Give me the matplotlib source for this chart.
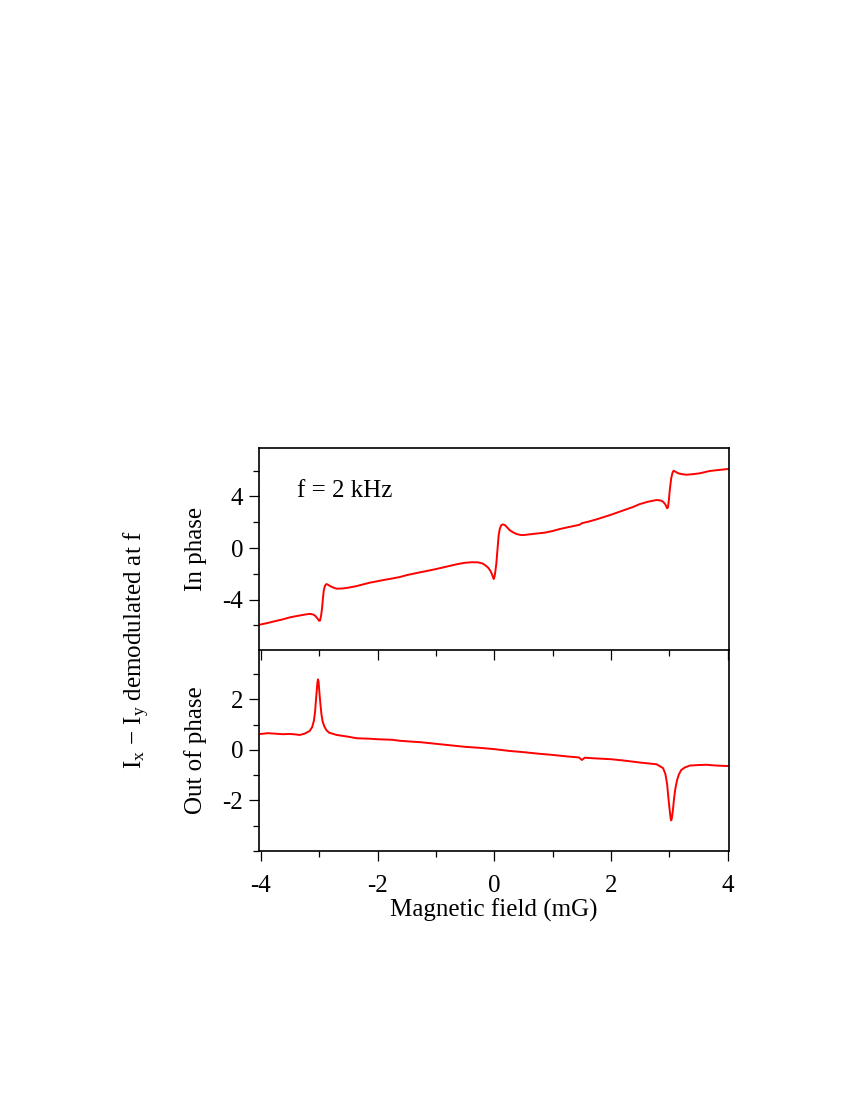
import matplotlib
matplotlib.use("Agg")
import matplotlib.pyplot as plt
from matplotlib.ticker import MultipleLocator

# ---- data ----
x_in = [-4.00, -3.875, -3.75, -3.625, -3.50, -3.375, -3.25, -3.16, -3.10, -3.06,
        -3.03, -3.00, -2.985, -2.965, -2.95, -2.935, -2.92, -2.90, -2.875, -2.85,
        -2.81, -2.76, -2.70, -2.59, -2.50, -2.36,
        -2.25, -2.13, -2.00, -1.875, -1.75, -1.62, -1.50, -1.375, -1.25, -1.125,
        -1.00, -0.875, -0.75, -0.625, -0.50, -0.38, -0.28, -0.20, -0.14, -0.10,
        -0.06, -0.03, -0.01, 0.005, 0.02, 0.035, 0.055, 0.075, 0.095, 0.12,
        0.15, 0.18, 0.22, 0.26, 0.32, 0.38, 0.44, 0.49, 0.66, 0.86, 1.00,
        1.12, 1.25, 1.375, 1.46, 1.50, 1.625, 1.75, 1.875, 2.00, 2.125,
        2.25, 2.375, 2.49, 2.625, 2.78, 2.85, 2.89, 2.93, 2.96, 2.975,
        2.99, 3.00, 3.015, 3.03, 3.05, 3.07, 3.10, 3.15, 3.22, 3.29,
        3.40, 3.52, 3.69, 3.85, 4.00]
y_in = [-5.92, -5.80, -5.66, -5.53, -5.37, -5.26, -5.16, -5.10, -5.15, -5.28,
        -5.45, -5.64, -5.62, -5.20, -4.65, -3.90, -3.26, -2.92, -2.79, -2.84,
        -2.95, -3.06, -3.15, -3.13, -3.07, -2.95,
        -2.82, -2.68, -2.57, -2.46, -2.36, -2.25, -2.10, -1.98, -1.86, -1.75,
        -1.63, -1.50, -1.37, -1.24, -1.14, -1.10, -1.11, -1.20, -1.38, -1.55,
        -1.82, -2.15, -2.40, -2.20, -1.75, -1.19, -0.10, 1.00, 1.50, 1.78,
        1.83, 1.78, 1.60, 1.40, 1.22, 1.09, 1.02, 1.00, 1.09, 1.19, 1.32,
        1.47, 1.60, 1.72, 1.80, 1.92, 2.06, 2.22, 2.40, 2.58, 2.78,
        2.98, 3.18, 3.40, 3.58, 3.72, 3.68, 3.59, 3.38, 3.08, 3.15,
        3.70, 4.24, 4.85, 5.40, 5.80, 5.99, 5.92, 5.79, 5.72, 5.68,
        5.72, 5.79, 5.97, 6.05, 6.12]

x_out = [-4.00, -3.875, -3.75, -3.625, -3.50, -3.40, -3.33, -3.25, -3.16, -3.12,
         -3.09, -3.07, -3.05, -3.03, -3.02, -3.01, -3.00, -2.98, -2.96, -2.94,
         -2.91, -2.875, -2.83, -2.70, -2.50, -2.36, -2.125,
         -2.00, -1.75, -1.62, -1.50, -1.25, -1.00, -0.75, -0.50, -0.25, 0.00,
         0.25, 0.50, 0.75, 1.00, 1.25, 1.45, 1.50, 1.55, 1.75, 2.00,
         2.25, 2.49, 2.78, 2.89, 2.93, 2.96, 2.98, 3.00, 3.02, 3.03,
         3.04, 3.06, 3.08, 3.10, 3.13, 3.16, 3.20, 3.26,
         3.35, 3.50, 3.63, 3.80, 4.00]
y_out = [0.63, 0.66, 0.64, 0.62, 0.63, 0.61, 0.59, 0.64, 0.75, 0.90,
         1.15, 1.50, 2.10, 2.65, 2.79, 2.70, 2.40, 1.85, 1.40, 1.12,
         0.92, 0.78, 0.68, 0.59, 0.52, 0.46, 0.44,
         0.42, 0.40, 0.36, 0.34, 0.30, 0.24, 0.18, 0.12, 0.08, 0.03,
         -0.04, -0.09, -0.15, -0.20, -0.26, -0.30, -0.40, -0.31, -0.34, -0.37,
         -0.43, -0.50, -0.57, -0.72, -0.95, -1.35, -1.85, -2.30, -2.70, -2.79,
         -2.72, -2.37, -1.90, -1.55, -1.20, -0.98, -0.80, -0.70,
         -0.62, -0.60, -0.59, -0.62, -0.64]

x_ticks = [-4, -2, 0, 2, 4]
top_yticks = [-4, 0, 4]
bot_yticks = [-2, 0, 2]

plt.rcParams['font.family'] = ['Liberation Serif', 'DejaVu Serif']
plt.rcParams['mathtext.fontset'] = 'custom'
plt.rcParams['mathtext.rm'] = 'Liberation Serif'
plt.rcParams['mathtext.it'] = 'Liberation Serif:italic'
plt.rcParams['axes.unicode_minus'] = False

FS = 18
fig = plt.figure(figsize=(8.5, 11), dpi=100)
W, H = 850, 1100
L, R = 259, 729
ax1 = fig.add_axes([L / W, 1 - 650 / H, (R - L) / W, 202 / H])
ax2 = fig.add_axes([L / W, 1 - 851 / H, (R - L) / W, 201 / H])
ax2.set_facecolor('none')

red = '#ff0000'
ax1.plot(x_in, y_in, color=red, lw=1.4)
ax2.plot(x_out, y_out, color=red, lw=1.4)

for ax in (ax1, ax2):
    ax.set_xlim(-4.03, 4.02)
    ax.xaxis.set_major_locator(MultipleLocator(2))
    ax.xaxis.set_minor_locator(MultipleLocator(1))
    for s in ax.spines.values():
        s.set_linewidth(1.2)
    ax.tick_params(which='major', direction='out', length=7.5, width=0.9,
                   labelsize=FS, right=False, top=False, pad=4)
    ax.tick_params(which='minor', direction='out', length=4.5, width=0.9,
                   right=False, top=False)
    ax.yaxis.set_label_coords(-0.110, 0.5)

ax1.set_ylim(-7.9, 7.75)
ax1.set_yticks(top_yticks)
ax1.yaxis.set_minor_locator(MultipleLocator(2))
ax1.tick_params(axis='x', labelbottom=False)
ax1.set_ylabel('In phase', fontsize=FS)
ax1.text(-3.38, 4.4, 'f = 2 kHz', fontsize=FS, ha='left', va='center')

ax2.set_ylim(-4.0, 3.95)
ax2.set_yticks(bot_yticks)
ax2.yaxis.set_minor_locator(MultipleLocator(1))
ax2.set_xticks(x_ticks)
ax2.tick_params(axis='x', which='major', pad=10)
ax2.set_ylabel('Out of phase', fontsize=FS)
ax2.set_xlabel('Magnetic field (mG)', fontsize=FS, labelpad=1)
ax2.spines['top'].set_visible(False)

fig.text(137 / W, 1 - 650 / H, r'I$_\mathrm{x}$ $-$ I$_\mathrm{y}$ demodulated at f',
         rotation=90, ha='center', va='center', fontsize=FS)

fig.savefig('out.png', dpi=100)
